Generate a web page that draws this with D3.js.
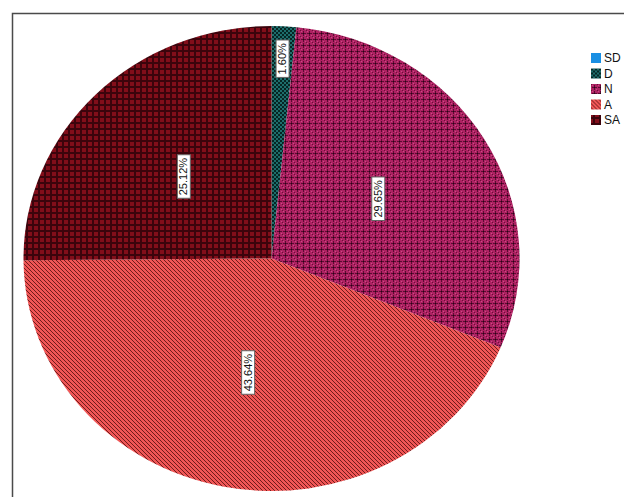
<!DOCTYPE html>
<html>
<head>
<meta charset="utf-8">
<script src="https://cdn.jsdelivr.net/npm/d3@7"></script>
<style>
  html, body { margin: 0; padding: 0; background: #fff; }
  svg { display: block; }
</style>
</head>
<body>
<svg id="chart" width="624" height="497"></svg>
<script>
// Response categories and their shares (%)
const categories = ["SD", "D", "N", "A", "SA"];
const shares = [0, 1.60, 29.65, 43.64, 25.12];
const shareLabels = ["0.00%", "1.60%", "29.65%", "43.64%", "25.12%"];

const svg = d3.select("#chart");
const W = 624, H = 497;

// ---- fill patterns ----
const defs = svg.append("defs");

// D: teal checkerboard
const pD = defs.append("pattern").attr("id", "pat-D").attr("patternUnits", "userSpaceOnUse")
  .attr("width", 4).attr("height", 4);
pD.append("rect").attr("width", 4).attr("height", 4).attr("fill", "#1d6e6c");
pD.append("rect").attr("x", 0).attr("y", 0).attr("width", 2).attr("height", 2).attr("fill", "#062624");
pD.append("rect").attr("x", 2).attr("y", 2).attr("width", 2).attr("height", 2).attr("fill", "#062624");

// N: magenta with dark crosses on an offset lattice
const pN = defs.append("pattern").attr("id", "pat-N").attr("patternUnits", "userSpaceOnUse")
  .attr("width", 6).attr("height", 6);
pN.append("rect").attr("width", 6).attr("height", 6).attr("fill", "#ad2262");
pN.append("rect").attr("x", 1).attr("y", 3).attr("width", 5).attr("height", 1).attr("fill", "#5a0c32");
pN.append("rect").attr("x", 3).attr("y", 1).attr("width", 1).attr("height", 5).attr("fill", "#5a0c32");
pN.append("rect").attr("x", 3).attr("y", 3).attr("width", 1).attr("height", 1).attr("fill", "#2a0416");
pN.append("rect").attr("x", 0).attr("y", 0).attr("width", 1).attr("height", 1).attr("fill", "#6a1038");
pN.append("rect").attr("x", 1).attr("y", 1).attr("width", 1).attr("height", 1).attr("fill", "#cc4a86");
pN.append("rect").attr("x", 5).attr("y", 5).attr("width", 1).attr("height", 1).attr("fill", "#cc4a86");

// A: red with diagonal dark stripes
const pA = defs.append("pattern").attr("id", "pat-A").attr("patternUnits", "userSpaceOnUse")
  .attr("width", 4).attr("height", 4);
pA.append("rect").attr("width", 4).attr("height", 4).attr("fill", "#f05656");
pA.append("path").attr("d", "M-1,-1 L5,5 M-1,3 L1,5 M3,-1 L5,1")
  .attr("stroke", "#6a1818").attr("stroke-width", 0.95);

// SA: dark red with black grid
const pSA = defs.append("pattern").attr("id", "pat-SA").attr("patternUnits", "userSpaceOnUse")
  .attr("width", 6).attr("height", 6);
pSA.append("rect").attr("width", 6).attr("height", 6).attr("fill", "#820e1a");
pSA.append("rect").attr("x", 0).attr("y", 2).attr("width", 6).attr("height", 2).attr("fill", "#3c040c");
pSA.append("rect").attr("x", 2).attr("y", 0).attr("width", 2).attr("height", 6).attr("fill", "#3c040c");

const fills = d3.scaleOrdinal()
  .domain(categories)
  .range(["#1a8fe3", "url(#pat-D)", "url(#pat-N)", "url(#pat-A)", "url(#pat-SA)"]);

// ---- frame ----
svg.append("path")
  .attr("d", `M12.5,${H} L12.5,13.5 L${W},13.5`)
  .attr("fill", "none").attr("stroke", "#4a4a4a").attr("stroke-width", 1.5);

// ---- pie (elliptical) ----
const cx = 271.5, cy = 258.5, rx = 248, ry = 232.5;
const pie = d3.pie().value(d => d.v).sort(null);
const data = categories.map((c, i) => ({ c, v: shares[i], label: shareLabels[i] }));
const arcs = pie(data);

// point on the ellipse at a pie angle (0 = 12 o'clock, clockwise)
const pt = (a, k = 1) => [cx + k * rx * Math.sin(a), cy - k * ry * Math.cos(a)];

function sectorPath(d) {
  const [x0, y0] = pt(d.startAngle);
  const [x1, y1] = pt(d.endAngle);
  const large = (d.endAngle - d.startAngle) > Math.PI ? 1 : 0;
  return `M${cx},${cy} L${x0},${y0} A${rx},${ry} 0 ${large} 1 ${x1},${y1} Z`;
}

const g = svg.append("g");
g.selectAll("path.slice")
  .data(arcs.filter(d => d.endAngle > d.startAngle))
  .join("path")
  .attr("class", "slice")
  .attr("d", sectorPath)
  .attr("fill", d => fills(d.data.c));

// ---- value labels: rotated, boxed ----
const lab = g.selectAll("g.lab")
  .data(arcs.filter(d => d.data.v > 0))
  .join("g")
  .attr("class", "lab")
  .attr("transform", d => {
    const mid = (d.startAngle + d.endAngle) / 2;
    const k = (d.data.v < 5) ? 0.86 : 0.5;
    const [x, y] = pt(mid, k);
    return `translate(${x},${y}) rotate(-90)`;
  });

lab.each(function(d) {
  const sel = d3.select(this);
  const t = sel.append("text")
    .attr("text-anchor", "middle")
    .attr("dy", "0.35em")
    .attr("font-family", "'Liberation Sans Narrow', 'Arial Narrow', Arial, sans-serif")
    .attr("font-size", 11)
    .attr("fill", "#111")
    .text(d.data.label);
  const bb = t.node().getBBox();
  sel.insert("rect", "text")
    .attr("x", bb.x - 3).attr("y", bb.y)
    .attr("width", bb.width + 6).attr("height", bb.height + 1)
    .attr("fill", "#fff").attr("stroke", "#666").attr("stroke-width", 1);
});

// ---- legend ----
const legend = svg.append("g").attr("transform", "translate(591,53)");
const row = legend.selectAll("g")
  .data(categories)
  .join("g")
  .attr("transform", (d, i) => `translate(0,${i * 15.5})`);
row.append("rect")
  .attr("width", 10).attr("height", 10)
  .attr("fill", d => fills(d));
row.append("text")
  .attr("x", 13).attr("y", 5).attr("dy", "0.36em")
  .attr("font-family", "Arial, 'Liberation Sans', sans-serif")
  .attr("font-size", 12)
  .attr("fill", "#111")
  .text(d => d);
</script>
</body>
</html>
